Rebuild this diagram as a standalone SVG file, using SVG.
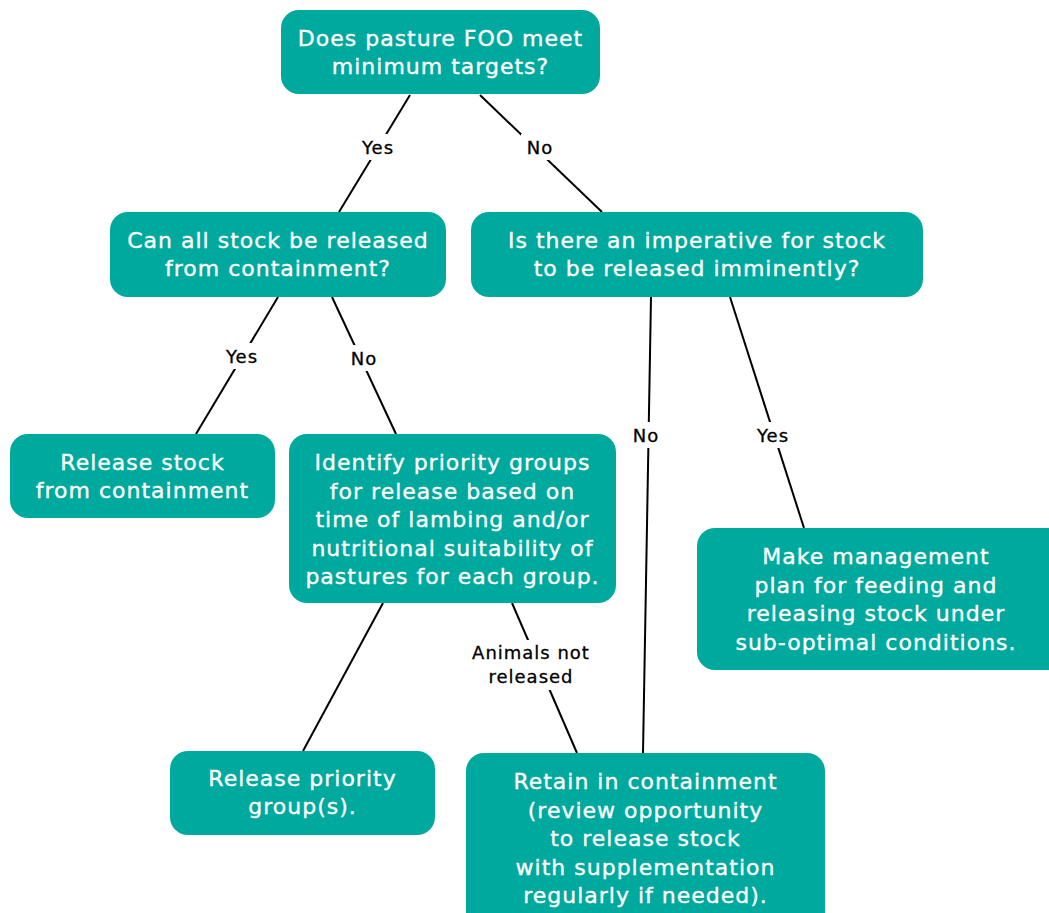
<svg xmlns="http://www.w3.org/2000/svg" width="1049" height="913" viewBox="0 0 1049 913">
<style>
.n{fill:#00A99D}
.t{fill:#fff;stroke:#fff;stroke-width:0.35;font-family:"DejaVu Sans","Liberation Sans",sans-serif;font-size:22px;text-anchor:middle;letter-spacing:1px}
.c{stroke:#000;stroke-width:2;fill:none}
.lb{fill:#fff}
.l{fill:#000;stroke:#000;stroke-width:0.3;font-family:"DejaVu Sans","Liberation Sans",sans-serif;font-size:18px;text-anchor:middle;letter-spacing:1px}
</style>
<rect width="1049" height="913" fill="#fff"/>
<g id="connectors">
<line class="c" x1="410" y1="95" x2="339" y2="212"/>
<line class="c" x1="480" y1="95" x2="602" y2="212"/>
<line class="c" x1="278" y1="297" x2="196" y2="434"/>
<line class="c" x1="332" y1="297" x2="396" y2="434"/>
<line class="c" x1="651" y1="297" x2="643" y2="753"/>
<line class="c" x1="730" y1="297" x2="804" y2="528"/>
<line class="c" x1="383" y1="603" x2="303" y2="751"/>
<line class="c" x1="512" y1="603" x2="577" y2="753"/>
<rect class="lb" x="354" y="134" width="48" height="26"/>
<text class="l" x="378" y="154">Yes</text>
<rect class="lb" x="521" y="134" width="38" height="26"/>
<text class="l" x="540" y="154">No</text>
<rect class="lb" x="218" y="343" width="48" height="26"/>
<text class="l" x="242" y="363">Yes</text>
<rect class="lb" x="345" y="345" width="38" height="26"/>
<text class="l" x="364" y="365">No</text>
<rect class="lb" x="627" y="422" width="38" height="26"/>
<text class="l" x="646" y="442">No</text>
<rect class="lb" x="749" y="422" width="48" height="26"/>
<text class="l" x="773" y="442">Yes</text>
<rect class="lb" x="464" y="640" width="136" height="50"/>
<text class="l" x="531" y="659">Animals not</text>
<text class="l" x="531" y="683">released</text>
</g>
<g id="n1"><rect class="n" x="281" y="10" width="319" height="84" rx="18"/>
<text class="t" x="440.5" y="46">Does pasture FOO meet</text>
<text class="t" x="440.5" y="74">minimum targets?</text></g>
<g id="n2"><rect class="n" x="110" y="212" width="336" height="85" rx="18"/>
<text class="t" x="278" y="248">Can all stock be released</text>
<text class="t" x="278" y="276">from containment?</text></g>
<g id="n3"><rect class="n" x="471" y="212" width="452" height="85" rx="18"/>
<text class="t" x="697" y="248">Is there an imperative for stock</text>
<text class="t" x="697" y="276">to be released imminently?</text></g>
<g id="n4"><rect class="n" x="10" y="434" width="265" height="84" rx="18"/>
<text class="t" x="142.5" y="470">Release stock</text>
<text class="t" x="142.5" y="498">from containment</text></g>
<g id="n5"><rect class="n" x="289" y="434" width="327" height="169" rx="18"/>
<text class="t" x="452.5" y="470">Identify priority groups</text>
<text class="t" x="452.5" y="498.5">for release based on</text>
<text class="t" x="452.5" y="527">time of lambing and/or</text>
<text class="t" x="452.5" y="555.5">nutritional suitability of</text>
<text class="t" x="452.5" y="584">pastures for each group.</text></g>
<g id="n6"><rect class="n" x="697" y="528" width="370" height="142" rx="18"/>
<text class="t" x="876" y="564">Make management</text>
<text class="t" x="876" y="592.5">plan for feeding and</text>
<text class="t" x="876" y="621">releasing stock under</text>
<text class="t" x="876" y="649.5">sub-optimal conditions.</text></g>
<g id="n7"><rect class="n" x="170" y="751" width="265" height="84" rx="18"/>
<text class="t" x="302.5" y="786">Release priority</text>
<text class="t" x="302.5" y="814">group(s).</text></g>
<g id="n8"><rect class="n" x="466" y="753" width="359" height="180" rx="18"/>
<text class="t" x="645.5" y="789">Retain in containment</text>
<text class="t" x="645.5" y="817.5">(review opportunity</text>
<text class="t" x="645.5" y="846">to release stock</text>
<text class="t" x="645.5" y="874.5">with supplementation</text>
<text class="t" x="645.5" y="903">regularly if needed).</text></g>
</svg>
